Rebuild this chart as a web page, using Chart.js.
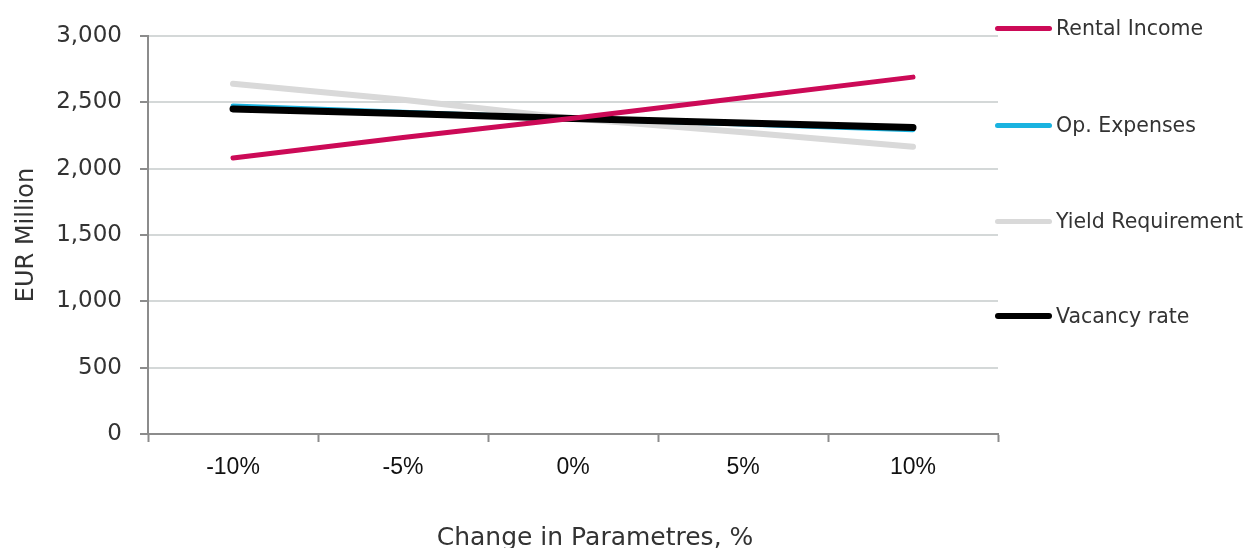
<!DOCTYPE html>
<html>
<head>
<meta charset="utf-8">
<script src="https://cdn.jsdelivr.net/npm/chart.js@4.4.1/dist/chart.umd.min.js"></script>
<style>
  html, body { margin: 0; padding: 0; background: #fff; overflow: hidden; }
  #wrap { position: relative; width: 1248px; height: 548px; overflow: hidden; }
  #c { position: absolute; left: 0; top: 0; }
  .lg { position: absolute; left: 995px; height: 24px; display: flex; align-items: center;
        font-family: "DejaVu Sans", sans-serif; font-size: 20.5px; color: #333; white-space: nowrap; }
  .lg .sw { width: 57px; height: 5px; border-radius: 3px; margin-right: 4px; }
  #xtitle { position: absolute; left: 595px; top: 522px; transform: translateX(-50%);
            font-family: "DejaVu Sans", sans-serif; font-size: 25px; line-height: 30px; color: #333; white-space: nowrap; }
</style>
</head>
<body>
<div id="wrap">
  <canvas id="c" width="1248" height="548"></canvas>
  <div id="legend"></div>
  <div id="xtitle"></div>
</div>
<script>
const categories = ["-10%", "-5%", "0%", "5%", "10%"];
const seriesNames = ["Rental Income", "Op. Expenses", "Yield Requirement", "Vacancy rate"];
const rentalIncome = [2080, 2235, 2380, 2535, 2690];
const opExpenses = [2472, 2425, 2378, 2336, 2294];
const yieldRequirement = [2640, 2520, 2378, 2275, 2165];
const vacancyRate = [2450, 2415, 2378, 2345, 2310];
const yTicks = [0, 500, 1000, 1500, 2000, 2500, 3000];
const xTitle = "Change in Parametres, %";
const yTitle = "EUR Million";
const colors = ["#cc0a57", "#1ab3e0", "#d9d9d9", "#000000"];
const legendY = [28, 125, 221, 316];
const seriesData = [rentalIncome, opExpenses, yieldRequirement, vacancyRate];

const widths = [5, 5, 6, 7];
// Chart.js paints dataset 0 on top: rental, vacancy, op, yield (back)
const order = [0, 3, 1, 2];
const datasets = order.map(i => ({
  label: seriesNames[i],
  data: seriesData[i],
  borderColor: colors[i],
  backgroundColor: colors[i],
  borderWidth: widths[i],
  borderCapStyle: 'round',
  pointRadius: 0,
  tension: 0,
  fill: false
}));

new Chart(document.getElementById('c'), {
  type: 'line',
  data: { labels: categories, datasets },
  options: {
    responsive: false,
    animation: false,
    devicePixelRatio: 1,
    layout: { padding: { left: 0, right: 250, top: 36, bottom: 0 } },
    plugins: { legend: { display: false }, tooltip: { enabled: false } },
    scales: {
      x: {
        offset: true,
        grid: { offset: true, drawOnChartArea: false, drawTicks: true, tickLength: 8, tickColor: '#8c8c8c', tickWidth: 2 },
        border: { display: true, color: '#8c8c8c', width: 2 },
        ticks: { color: '#111', font: { family: 'Liberation Sans', size: 23 }, padding: 12, maxRotation: 0 },
        title: { display: false },
        afterFit: s => { s.height = 548 - 434; }
      },
      y: {
        min: 0, max: 3000,
        afterBuildTicks: s => { s.ticks = yTicks.map(v => ({ value: v })); },
        grid: { color: '#d4d8d8', lineWidth: 2, tickLength: 8, tickColor: '#8c8c8c', tickWidth: 2 },
        border: { display: true, color: '#8c8c8c', width: 2 },
        ticks: { color: '#333', font: { family: 'DejaVu Sans', size: 23 }, padding: 18,
                 callback: v => v.toLocaleString('en-US') },
        title: { display: true, text: yTitle, color: '#333',
                 font: { family: 'DejaVu Sans', size: 24 }, padding: { top: 12, bottom: 0 } },
        afterFit: s => { s.width = 148; }
      }
    }
  }
});

document.getElementById('xtitle').textContent = xTitle;
const lg = document.getElementById('legend');
seriesNames.forEach((n, i) => {
  const d = document.createElement('div');
  d.className = 'lg';
  d.style.top = (legendY[i] - 12) + 'px';
  const sw = document.createElement('span');
  sw.className = 'sw';
  sw.style.background = colors[i];
  sw.style.height = (i === 3 ? 6 : 5) + 'px';
  const t = document.createElement('span');
  t.textContent = n;
  d.appendChild(sw); d.appendChild(t);
  lg.appendChild(d);
});
</script>
</body>
</html>
